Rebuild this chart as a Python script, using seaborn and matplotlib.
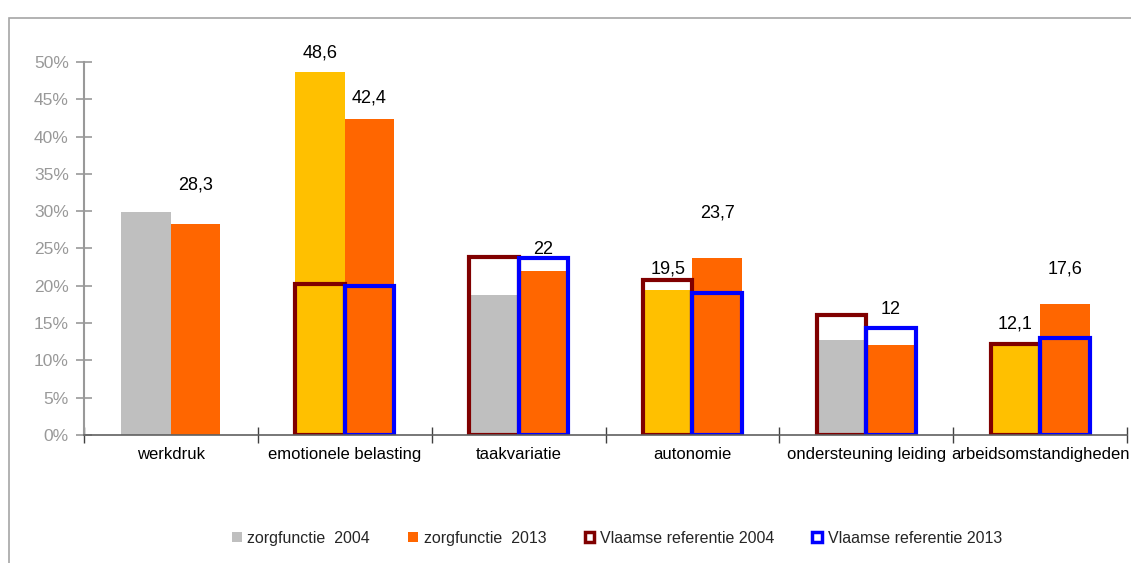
import numpy as np
import pandas as pd
import seaborn as sns
import matplotlib
matplotlib.use("Agg")
import matplotlib.pyplot as plt
from matplotlib import font_manager
from matplotlib.patches import Patch, Rectangle

# --- data -------------------------------------------------------------
categorieen = ["werkdruk", "emotionele belasting", "taakvariatie",
               "autonomie", "ondersteuning leiding", "arbeidsomstandigheden"]
zorg_2004 = [29.9, 48.6, 18.8, 19.5, 12.7, 12.1]
zorg_2013 = [28.3, 42.4, 22.0, 23.7, 12.0, 17.6]
vlaams_2004 = [np.nan, 20.3, 23.8, 20.8, 16.1, 12.2]
vlaams_2013 = [np.nan, 20.0, 23.7, 19.0, 14.4, 13.0]
toon_label_2004 = [False, True, False, True, False, True]
reeksen = ["zorgfunctie  2004", "zorgfunctie  2013",
           "Vlaamse referentie 2004", "Vlaamse referentie 2013"]

# --- styling ----------------------------------------------------------
GRIJS, GOUD, ORANJE = "#BFBFBF", "#FFC000", "#FF6600"
DONKERROOD, BLAUW = "#800000", "#0000FF"
kleur_2004 = [GRIJS, GOUD, GRIJS, GOUD, GRIJS, GOUD]
label_afstand_2004 = [0, 2.6, 0, 2.7, 0, 2.8]
label_afstand_2013 = [5.2, 2.8, 2.9, 6.1, 4.8, 4.6]

sns.set_theme(style="white")
narrow = None
for fam in ["Liberation Sans Narrow", "Arial Narrow"]:
    try:
        font_manager.findfont(fam, fallback_to_default=False)
        narrow = fam
        break
    except Exception:
        pass
if narrow:
    plt.rcParams["font.family"] = [narrow, "DejaVu Sans"]
    FS = 14
else:
    plt.rcParams["font.family"] = ["Liberation Sans", "DejaVu Sans"]
    FS = 12

fig = plt.figure(figsize=(11.31, 5.63), dpi=100)
ax = fig.add_axes([0.0743, 0.2274, 0.9222, 0.6625])

# chart frame
fig.patches.append(Rectangle((9 / 1131, -0.1), 1.2, 1 - 18 / 563 + 0.1,
                             transform=fig.transFigure, fill=False,
                             edgecolor="#A6A6A6", linewidth=1.2, zorder=0))

df = pd.DataFrame({
    "categorie": categorieen * 2,
    "reeks": [reeksen[0]] * 6 + [reeksen[1]] * 6,
    "waarde": zorg_2004 + zorg_2013,
})

BREEDTE = 0.57
bw = BREEDTE / 2
x = np.arange(len(categorieen))

# white backing of the reference boxes
for vals, off in [(vlaams_2004, -bw / 2), (vlaams_2013, bw / 2)]:
    ax.bar(x + off, vals, width=bw, color="white", zorder=1, linewidth=0)

n_voor = len(ax.containers)
sns.barplot(data=df, x="categorie", y="waarde", hue="reeks",
            palette=[GRIJS, ORANJE], width=BREEDTE, gap=0, saturation=1,
            legend=False, ax=ax, zorder=2, linewidth=0)
for patch, kl in zip(ax.containers[n_voor], kleur_2004):
    patch.set_facecolor(kl)

# reference outlines on top
for vals, off, kl in [(vlaams_2004, -bw / 2, DONKERROOD),
                      (vlaams_2013, bw / 2, BLAUW)]:
    ax.bar(x + off, vals, width=bw, fill=False, edgecolor=kl,
           linewidth=3.0, zorder=3)

# value labels
def fmt(v):
    return f"{v:g}".replace(".", ",")

for i in range(len(categorieen)):
    if toon_label_2004[i]:
        ax.text(x[i] - bw / 2, zorg_2004[i] + label_afstand_2004[i],
                fmt(zorg_2004[i]), ha="center", va="center",
                fontsize=FS + 1, color="black", zorder=5, clip_on=False)
    ax.text(x[i] + bw / 2, zorg_2013[i] + label_afstand_2013[i],
            fmt(zorg_2013[i]), ha="center", va="center",
            fontsize=FS + 1, color="black", zorder=5, clip_on=False)

# axes
ax.set_xlim(-0.5, len(categorieen) - 0.5)
ax.set_ylim(0, 50)
ax.set_yticks(np.arange(0, 51, 5))
ax.set_yticklabels([f"{v}%" for v in range(0, 51, 5)])
ax.set_xticks(x)
ax.set_xticklabels(categorieen)
ax.set_xticks(np.arange(-0.5, len(categorieen), 1), minor=True)
ax.set_xlabel("")
ax.set_ylabel("")
ax.tick_params(axis="x", which="major", length=0, pad=9,
               labelsize=FS, labelcolor="black")
ax.tick_params(axis="x", which="minor", length=12, direction="inout",
               width=1, color="#404040", bottom=True)
ax.tick_params(axis="y", length=12, direction="inout", width=1.2,
               color="#999999", labelsize=FS + 0.5, labelcolor="#999999",
               pad=5, left=True)
for s in ["top", "right"]:
    ax.spines[s].set_visible(False)
ax.spines["left"].set_color("#999999")
ax.spines["left"].set_linewidth(1.5)
ax.spines["bottom"].set_color("#606060")
ax.spines["bottom"].set_linewidth(1.2)
ax.spines["bottom"].set_zorder(4)

# legend
handles = [
    Patch(facecolor=GRIJS, edgecolor="none"),
    Patch(facecolor=ORANJE, edgecolor="none"),
    Patch(facecolor="white", edgecolor=DONKERROOD, linewidth=2.5),
    Patch(facecolor="white", edgecolor=BLAUW, linewidth=2.5),
]
fig.legend(handles, reeksen, loc="center", ncol=4,
           bbox_to_anchor=(0.5455, 0.0444), frameon=False,
           fontsize=FS - 0.5, handlelength=0.6, handleheight=0.6,
           handletextpad=0.35, columnspacing=2.4)

fig.savefig("out.png", dpi=100, facecolor="white")
